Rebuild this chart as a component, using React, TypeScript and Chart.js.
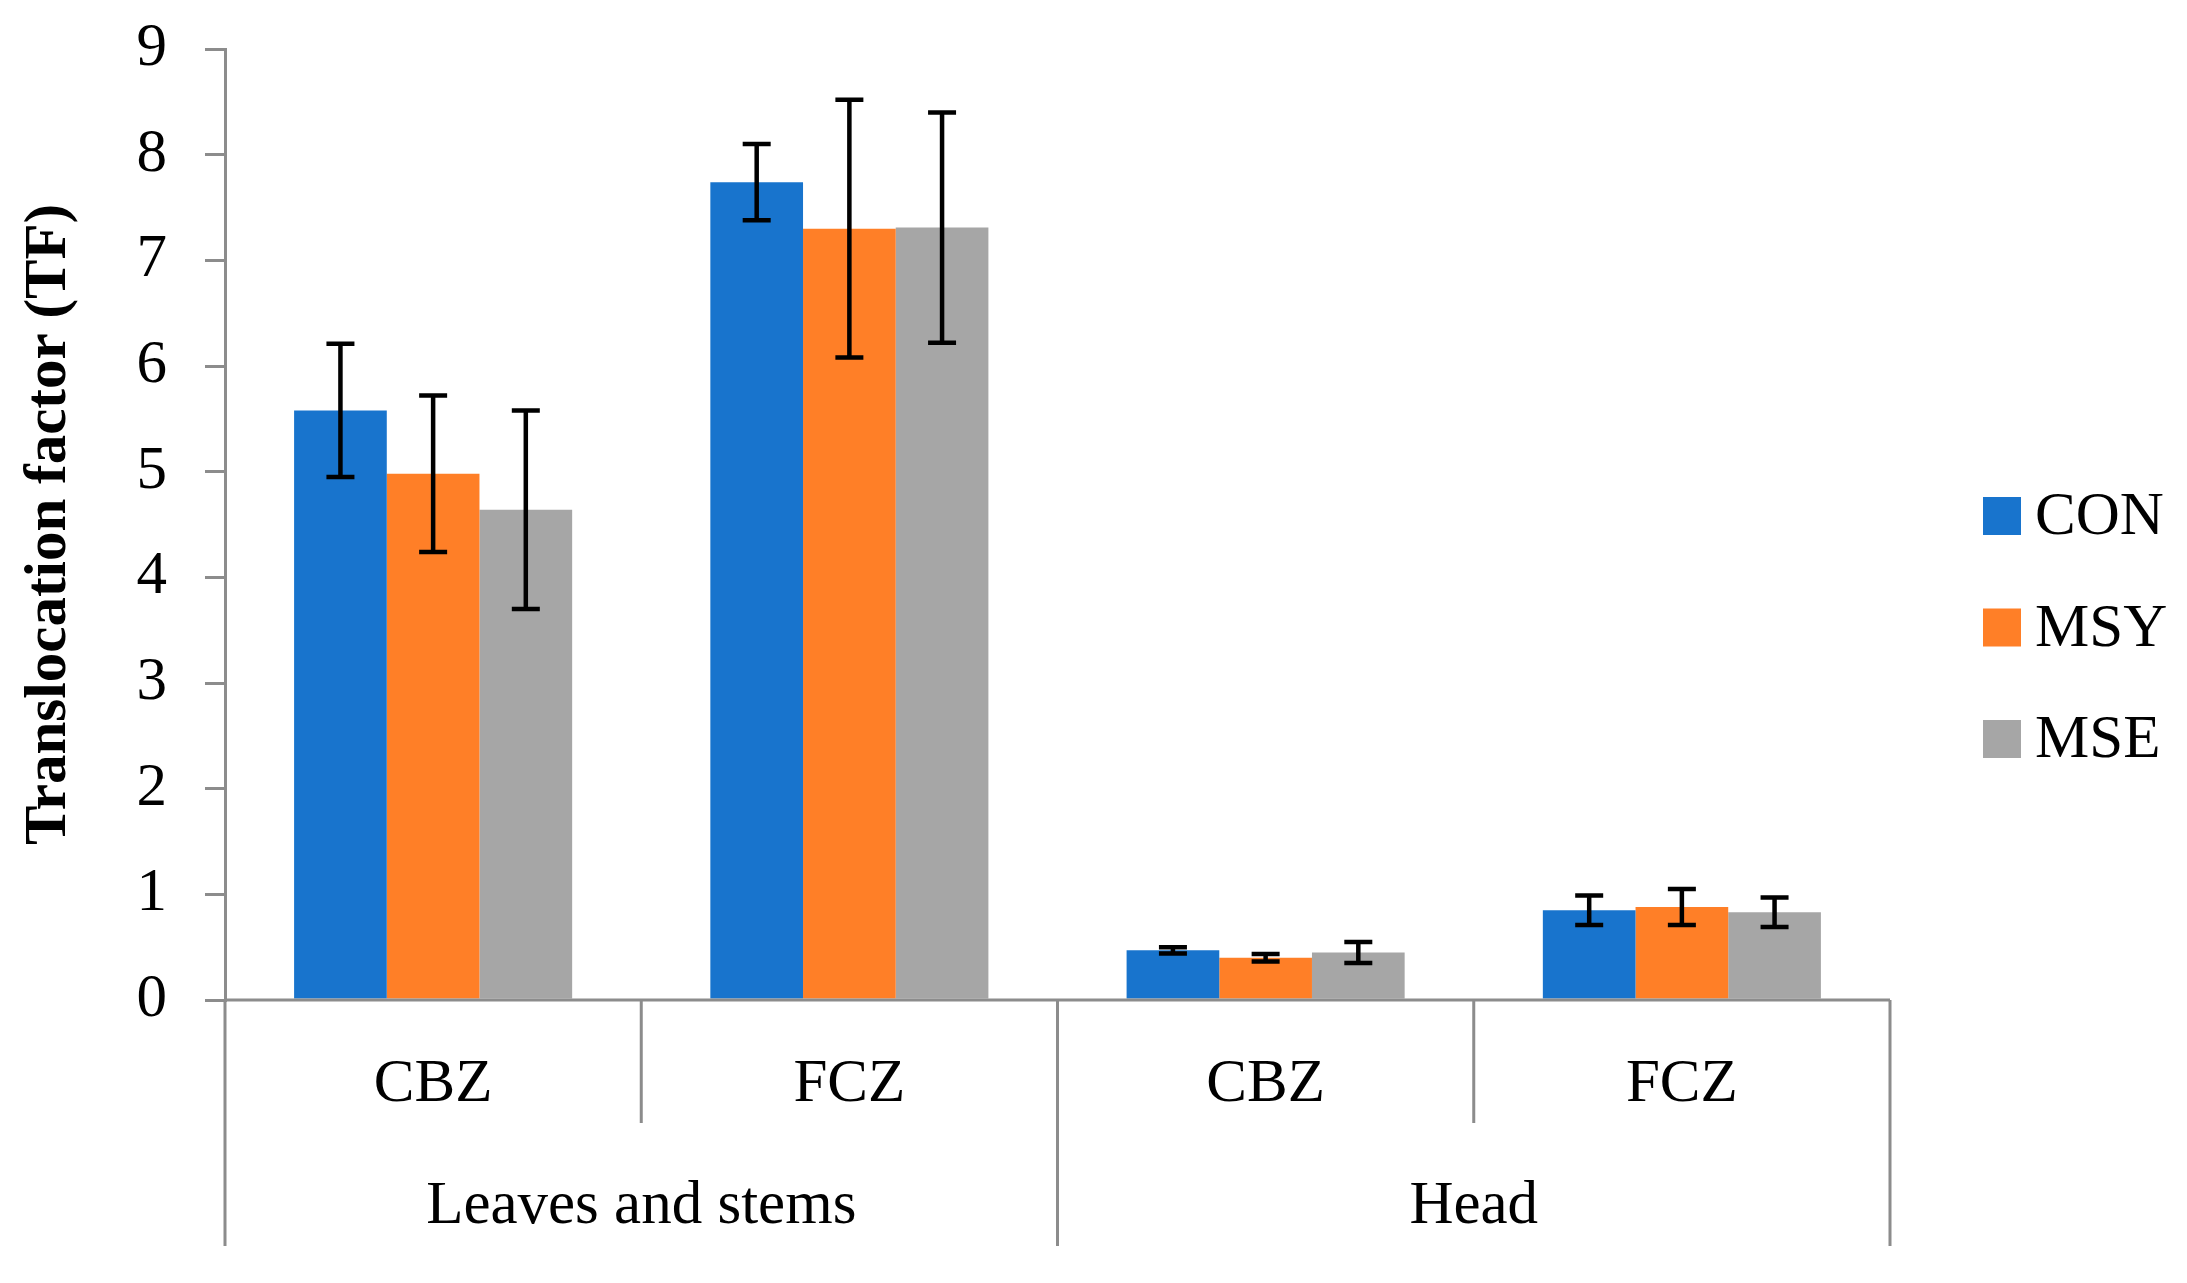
import { useEffect, useRef } from "react"
import { Chart, registerables } from "chart.js"

Chart.register(...registerables)

const categories = ["CBZ", "FCZ", "CBZ", "FCZ"]
const groups = ["Leaves and stems", "Head"]
const groupSpans = [2, 2]

const seriesNames = ["CON", "MSY", "MSE"]
const conValues = [5.58, 7.74, 0.47, 0.85]
const conErrors = [0.63, 0.36, 0.03, 0.14]
const msyValues = [4.98, 7.3, 0.4, 0.88]
const msyErrors = [0.74, 1.22, 0.035, 0.17]
const mseValues = [4.64, 7.31, 0.45, 0.83]
const mseErrors = [0.94, 1.09, 0.1, 0.14]

const yTicks = [0, 1, 2, 3, 4, 5, 6, 7, 8, 9]

const colors = ["#1874CD", "#FF7F27", "#A6A6A6"]
const axisColor = "#8c8c8c"
const fontFamily = "'Liberation Serif', 'Times New Roman', serif"

const errors = [conErrors, msyErrors, mseErrors]

// error bars, two-level category axis and legend drawn on top
const extrasPlugin = {
  id: "extras",
  afterDatasetsDraw(chart: any) {
    const ctx = chart.ctx
    const y = chart.scales.y
    ctx.save()
    ctx.strokeStyle = "#000"
    ctx.lineWidth = 4.5
    chart.data.datasets.forEach((ds: any, i: number) => {
      const meta = chart.getDatasetMeta(i)
      meta.data.forEach((bar: any, j: number) => {
        const v = ds.data[j]
        const e = errors[i][j]
        const top = y.getPixelForValue(v + e)
        const bot = y.getPixelForValue(v - e)
        ctx.beginPath()
        ctx.moveTo(bar.x, top)
        ctx.lineTo(bar.x, bot)
        ctx.moveTo(bar.x - 14, top)
        ctx.lineTo(bar.x + 14, top)
        ctx.moveTo(bar.x - 14, bot)
        ctx.lineTo(bar.x + 14, bot)
        ctx.stroke()
      })
    })
    ctx.restore()
  },
  afterDraw(chart: any) {
    const ctx = chart.ctx
    const x = chart.scales.x
    const area = chart.chartArea
    const n = chart.data.labels.length
    const half = (x.getPixelForValue(1) - x.getPixelForValue(0)) / 2
    const base = area.bottom
    const row1 = base + 85
    const row2 = base + 207
    const innerEnd = base + 123
    const outerEnd = base + 246

    ctx.save()
    ctx.strokeStyle = axisColor
    ctx.lineWidth = 3
    ctx.beginPath()
    ctx.moveTo(area.left, base)
    ctx.lineTo(area.right, base)
    ctx.moveTo(area.left, base)
    ctx.lineTo(area.left, outerEnd)
    let idx = 0
    const groupEnds: number[] = []
    groupSpans.forEach((s) => {
      idx += s
      groupEnds.push(idx)
    })
    for (let i = 1; i <= n; i++) {
      const bx = x.getPixelForValue(i - 1) + half
      const isGroupEnd = groupEnds.includes(i)
      ctx.moveTo(bx, base)
      ctx.lineTo(bx, isGroupEnd ? outerEnd : innerEnd)
    }
    ctx.stroke()

    ctx.fillStyle = "#000"
    ctx.font = `61px ${fontFamily}`
    ctx.textAlign = "center"
    ctx.textBaseline = "middle"
    chart.data.labels.forEach((lab: string, i: number) => {
      ctx.fillText(lab, x.getPixelForValue(i), row1)
    })
    let start = 0
    groups.forEach((g, gi) => {
      const end = start + groupSpans[gi] - 1
      const cx = (x.getPixelForValue(start) + x.getPixelForValue(end)) / 2
      ctx.fillText(g, cx, row2)
      start = end + 1
    })

    // legend
    ctx.textAlign = "left"
    chart.data.datasets.forEach((ds: any, i: number) => {
      const cy = 516 + i * 111.5
      ctx.fillStyle = ds.backgroundColor
      ctx.fillRect(1983, cy - 19, 38, 38)
      ctx.fillStyle = "#000"
      ctx.fillText(ds.label, 2035, cy + 2)
    })
    ctx.restore()
  },
}

export default function App() {
  const chartRef = useRef<HTMLCanvasElement>(null)
  const chartInstance = useRef<Chart | null>(null)

  useEffect(() => {
    document.body.style.margin = "0"
    if (!chartRef.current) return

    if (chartInstance.current) {
      chartInstance.current.destroy()
    }

    const ctx = chartRef.current.getContext("2d")
    if (!ctx) return

    const values = [conValues, msyValues, mseValues]

    chartInstance.current = new Chart(ctx, {
      type: "bar",
      data: {
        labels: categories,
        datasets: seriesNames.map((name, i) => ({
          label: name,
          data: values[i],
          backgroundColor: colors[i],
          borderWidth: 0,
          barPercentage: 1,
          categoryPercentage: 0.668,
        })),
      },
      options: {
        responsive: true,
        maintainAspectRatio: false,
        animation: false,
        layout: {
          padding: { top: 49, right: 297, bottom: 283, left: 0 },
        },
        plugins: {
          legend: { display: false },
          tooltip: { enabled: false },
        },
        scales: {
          x: {
            display: false,
            offset: true,
          },
          y: {
            min: 0,
            max: 9,
            afterBuildTicks: (scale: any) => {
              scale.ticks = yTicks.map((v) => ({ value: v }))
            },
            afterFit: (scale: any) => {
              scale.width = 225
              scale.paddingTop = 0
              scale.paddingBottom = 0
            },
            border: { color: axisColor, width: 3 },
            grid: {
              drawOnChartArea: false,
              drawTicks: true,
              tickLength: 20,
              color: axisColor,
              lineWidth: 3,
            },
            ticks: {
              padding: 38,
              color: "#000",
              font: { family: fontFamily, size: 61 },
            },
            title: {
              display: true,
              text: "Translocation factor (TF)",
              color: "#000",
              padding: { top: 14, bottom: 0 },
              font: { family: fontFamily, size: 59, weight: "bold" },
            },
          },
        },
      },
      plugins: [extrasPlugin],
    })

    return () => {
      if (chartInstance.current) {
        chartInstance.current.destroy()
        chartInstance.current = null
      }
    }
  }, [])

  return (
    <div style={{ width: "2187px", height: "1283px", position: "relative" }}>
      <canvas ref={chartRef} />
    </div>
  )
}
